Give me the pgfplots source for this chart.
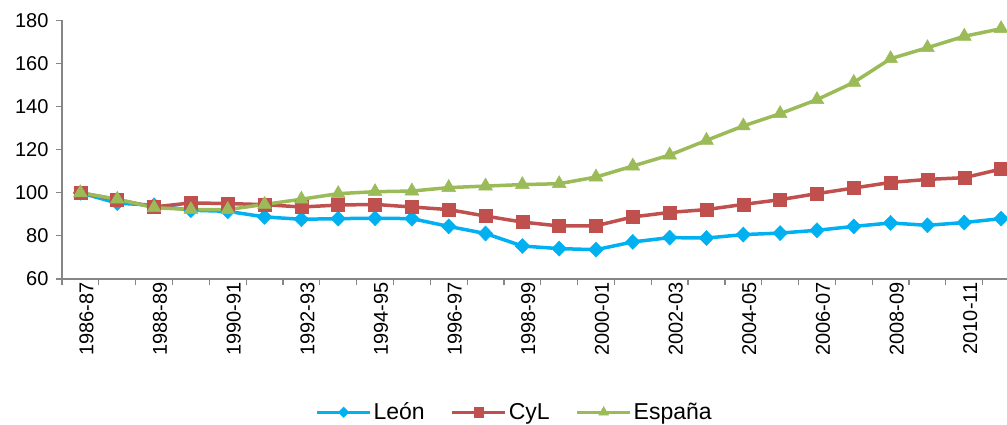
\documentclass[border=0pt]{standalone}
\usepackage{pgfplots}
\pgfplotsset{compat=1.18}
\usepackage{fontspec}
\setmainfont{Liberation Sans}
\definecolor{leon}{HTML}{00B0F0}
\definecolor{cyl}{HTML}{C0504D}
\definecolor{esp}{HTML}{9BBB59}
\definecolor{axgray}{HTML}{868686}
\begin{document}
\begin{tikzpicture}
\useasboundingbox (-62pt,-145pt) rectangle (945pt,279pt);
\begin{axis}[
  scale only axis,
  width=945pt, height=258.7pt,
  at={(0,0)}, anchor=south west,
  xmin=-0.5, xmax=25.16,
  ymin=60, ymax=180,
  ytick={60,80,...,180},
  axis x line*=bottom, axis y line*=left,
  axis line style={axgray, line width=1.2pt, -},
  tick align=outside,
  major tick length=6pt,
  tick style={axgray, line width=1.2pt},
  xtick={-0.5,0.5,...,24.5},
  xticklabels={},
  extra x ticks={0,2,...,24},
  extra x tick labels={1986-87,1988-89,1990-91,1992-93,1994-95,1996-97,1998-99,2000-01,2002-03,2004-05,2006-07,2008-09,2010-11},
  extra x tick style={major tick length=0pt, tick style={draw=none},
    tick label style={rotate=90, anchor=east, yshift=-6pt}},
  /pgf/number format/assume math mode=true,
  ticklabel style={font=\fontsize{20}{24}\selectfont},
  yticklabel style={xshift=-4pt},
  legend style={draw=none, fill=none, font=\fontsize{23}{27}\selectfont,
    at={(0.479,-0.515)}, anchor=center, legend columns=-1,
    /tikz/every even column/.append style={column sep=24pt}},
  legend image code/.code={
    \draw[mark repeat=2, mark phase=2, #1, line width=3pt, every mark/.append style={scale=0.7}] plot coordinates {(0pt,0pt) (26.5pt,0pt) (53pt,0pt)};},
  every axis plot/.append style={line width=3.5pt},
]
\addplot[leon, mark=diamond*, mark size=7.5pt, mark options={solid, fill=leon, draw=leon, line width=0.5pt, xscale=1.3}] coordinates {
(0,100) (1,95.2) (2,94.2) (3,91.9) (4,91.4) (5,88.8) (6,87.7) (7,88.0) (8,88.2) (9,88.0)
(10,84.4) (11,81.1) (12,75.3) (13,74.1) (14,73.6) (15,77.2) (16,79.2) (17,79.0) (18,80.6)
(19,81.3) (20,82.6) (21,84.4) (22,86.0) (23,84.9) (24,86.2) (25,88.0)};
\addlegendentry{León}
\addplot[cyl, mark=square*, mark size=6.5pt, mark options={solid, fill=cyl, draw=cyl, line width=0.5pt}] coordinates {
(0,100) (1,96.8) (2,93.4) (3,95.3) (4,95.0) (5,94.5) (6,93.4) (7,94.3) (8,94.6) (9,93.4)
(10,92.2) (11,89.2) (12,86.4) (13,84.6) (14,84.7) (15,88.8) (16,90.9) (17,92.2) (18,94.6)
(19,96.8) (20,99.6) (21,102.2) (22,104.8) (23,106.2) (24,107.0) (25,111.0)};
\addlegendentry{CyL}
\addplot[esp, mark=triangle*, mark size=8pt, mark options={solid, fill=esp, draw=esp, line width=0.5pt}] coordinates {
(0,100) (1,97.0) (2,93.1) (3,92.2) (4,92.2) (5,94.6) (6,97.0) (7,99.6) (8,100.5) (9,100.8)
(10,102.4) (11,103.1) (12,103.8) (13,104.2) (14,107.3) (15,112.4) (16,117.5) (17,124.3) (18,131.0)
(19,136.7) (20,143.2) (21,151.2) (22,162.2) (23,167.3) (24,172.6) (25,176.1)};
\addlegendentry{España}
\end{axis}
\end{tikzpicture}
\end{document}
